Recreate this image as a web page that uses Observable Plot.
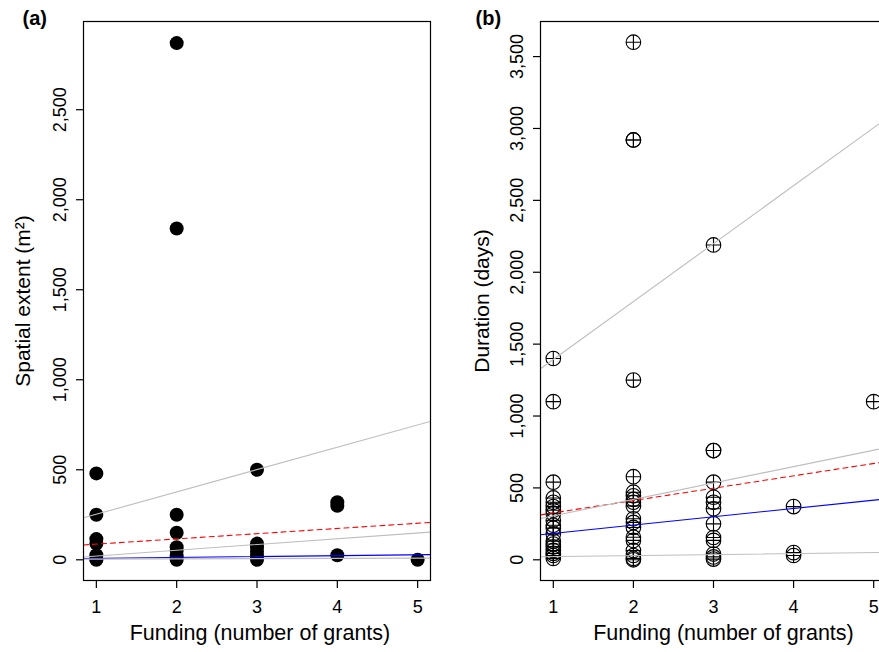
<!DOCTYPE html>
<html><head><meta charset="utf-8">
<script src="https://cdn.jsdelivr.net/npm/d3@7"></script>
<script src="https://cdn.jsdelivr.net/npm/@observablehq/plot@0.6"></script>
<style>
html,body{margin:0;padding:0;background:#fff;overflow:hidden;}
#wrap{position:relative;width:879px;height:652px;overflow:hidden;background:#fff;}
#a,#b{position:absolute;top:0;}
#a{left:0;width:440px}
#b{left:440px;width:460px}
svg{max-width:none !important;}
</style></head><body><div id="wrap"><div id="a"></div><div id="b"></div></div>
<script>
// ---------- data ----------
const xTicks = [1, 2, 3, 4, 5];
const yTicksA = [0, 500, 1000, 1500, 2000, 2500];
const yTicksB = [0, 500, 1000, 1500, 2000, 2500, 3000, 3500];

// Panel (a): spatial extent (m2) vs funding
const fundingA = [1,1,1,1,1,1,1, 2,2,2,2,2,2,2,2, 3,3,3,3,3,3, 4,4,4, 5];
const extentA  = [480,250,115,90,25,5,0, 2870,1840,250,150,70,50,20,0, 500,90,70,45,20,0, 320,300,25, 0];

// Panel (b): duration (days) vs funding
const fundingB = [
  1,1,1,1,1,1,1,1,1,1,1,1,1,1,1,1,1,1,1,
  2,2,2,2,2,2,2,2,2,2,2,2,2,2,2,2,2,2,2,
  3,3,3,3,3,3,3,3,3,3,3,3,3,
  4,4,4,
  5
];
const durationB = [
  1400,1100,540,430,400,370,345,320,275,240,220,180,130,110,90,65,45,30,10,
  3600,2920,2920,1250,578,470,445,420,400,375,285,260,225,157,135,65,30,10,0,
  2190,760,760,540,435,400,355,250,155,135,40,20,5,
  370,50,30,
  1100
];

// Fitted lines (intercept, slope)
const lineKinds      = ["upper", "mean", "mid", "median", "lower"];
const interceptsA    = [129, 58, -11, 3, 3];
const slopesA        = [124, 29, 32, 5, 1.2];
const interceptsB    = [990, 240, 192, 125, 15];
const slopesB        = [403, 86, 114, 58, 7];

// ---------- styles ----------
const lineStyle = {
  upper:  {stroke: "#bebebe", strokeWidth: 1.1},
  mean:   {stroke: "#ff0000", strokeWidth: 1.1, strokeDasharray: "5,4"},
  mid:    {stroke: "#bebebe", strokeWidth: 1.1},
  median: {stroke: "#0000ff", strokeWidth: 1.1},
  lower:  {stroke: "#bebebe", strokeWidth: 1.1}
};
const FONT = "'Liberation Sans', Arial, Helvetica, sans-serif";
const xDomain = [0.84, 5.16];
const fmt = d3.format(",");

const circlePlus = {
  draw(ctx, size) {
    const r = Math.sqrt(size / Math.PI);
    ctx.moveTo(r, 0);
    ctx.arc(0, 0, r, 0, 2 * Math.PI);
    ctx.moveTo(-r, 0); ctx.lineTo(r, 0);
    ctx.moveTo(0, -r); ctx.lineTo(0, r);
  }
};

function fitLines(intercepts, slopes) {
  return lineKinds.map((k, i) => Plot.line(
    xDomain.map(x => ({x, y: intercepts[i] + slopes[i] * x})),
    {x: "x", y: "y", clip: true, ...lineStyle[k]}
  ));
}

function panel(o) {
  return Plot.plot({
    width: o.width, height: 652,
    marginLeft: o.marginLeft, marginRight: o.marginRight, marginTop: 21, marginBottom: 72,
    style: {fontFamily: FONT, fontSize: "18px", background: "white", overflow: "visible", maxWidth: "none"},
    x: {domain: xDomain},
    y: {domain: o.yDomain},
    marks: [
      o.dots,
      ...o.lines,
      Plot.frame({stroke: "black", strokeWidth: 1.2}),
      Plot.axisX({ticks: xTicks, tickSize: 8, tickFormat: () => "", label: null, strokeWidth: 1.2}),
      Plot.axisY({ticks: o.yTicks, tickSize: 7, tickFormat: () => "", label: null, strokeWidth: 1.2}),
      Plot.text(xTicks, {x: d => d, frameAnchor: "bottom", dy: 27, text: d => String(d), fontSize: 18, lineAnchor: "middle", fill: "black"}),
      Plot.text(o.yTicks, {y: d => d, frameAnchor: "left", dx: -23, rotate: -90, text: d => fmt(d), fontSize: 18, textAnchor: "middle", lineAnchor: "middle", fill: "black"}),
      Plot.text([o.xLabel], {frameAnchor: "bottom", dy: 53, dx: o.xLabelDx, text: d => d, fontSize: 21.5, lineAnchor: "middle", fill: "black"}),
      Plot.text([o.yLabel], {frameAnchor: "left", dx: o.yLabelDx, rotate: -90, text: d => d, fontSize: 21, textAnchor: "middle", lineAnchor: "middle", fill: "black"}),
      Plot.text([o.tag], {frameAnchor: "top-left", dx: o.tagDx, dy: -3, text: d => d, fontSize: 20, fontWeight: "bold", textAnchor: "start", lineAnchor: "middle", fill: "black"})
    ]
  });
}

const dataA = fundingA.map((f, i) => ({f, v: extentA[i]}));
const dataB = fundingB.map((f, i) => ({f, v: durationB[i]}));

const plotA = panel({
  width: 440, marginLeft: 83, marginRight: 10,
  yDomain: [-115, 2990], yTicks: yTicksA,
  dots: Plot.dot(dataA, {x: "f", y: "v", r: 7, fill: "black", stroke: "none"}),
  lines: fitLines(interceptsA, slopesA),
  xLabel: "Funding (number of grants)", xLabelDx: 3,
  yLabel: "Spatial extent (m²)", yLabelDx: -60,
  tag: "(a)", tagDx: -61
});
const plotB = panel({
  width: 460, marginLeft: 100, marginRight: 14,
  yDomain: [-144, 3744], yTicks: yTicksB,
  dots: Plot.dot(dataB, {x: "f", y: "v", r: 7.3, symbol: circlePlus, fill: "none", stroke: "black", strokeWidth: 1.1}),
  lines: fitLines(interceptsB, slopesB),
  xLabel: "Funding (number of grants)", xLabelDx: 10,
  yLabel: "Duration (days)", yLabelDx: -58,
  tag: "(b)", tagDx: -65
});
document.getElementById("a").appendChild(plotA);
document.getElementById("b").appendChild(plotB);
</script></body></html>
